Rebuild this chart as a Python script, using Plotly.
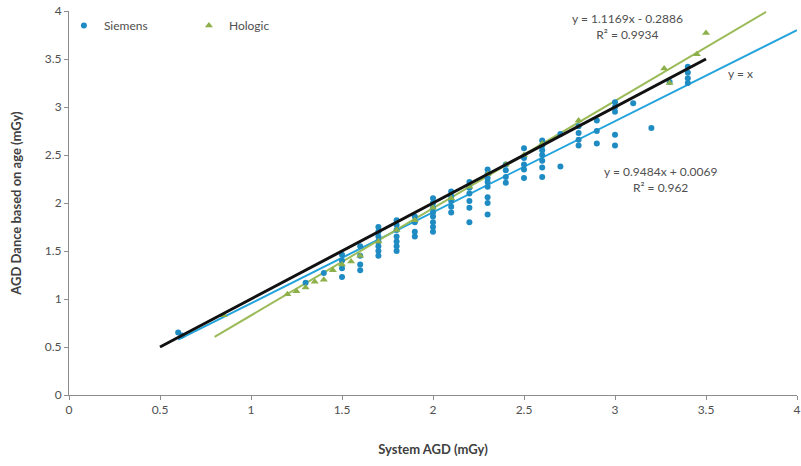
import plotly.graph_objects as go

# Siemens measurements (System AGD, AGD Dance)
siemens_x = [0.6, 0.62,
             1.3, 1.4,
             1.5, 1.5, 1.5, 1.5,
             1.6, 1.6, 1.6, 1.6,
             1.7, 1.7, 1.7, 1.7, 1.7, 1.7, 1.7,
             1.8, 1.8, 1.8, 1.8, 1.8, 1.8, 1.8,
             1.9, 1.9, 1.9, 1.9,
             2.0, 2.0, 2.0, 2.0, 2.0, 2.0, 2.0, 2.0,
             2.1, 2.1, 2.1, 2.1, 2.1,
             2.2, 2.2, 2.2, 2.2, 2.2, 2.2,
             2.3, 2.3, 2.3, 2.3, 2.3, 2.3, 2.3, 2.3,
             2.4, 2.4, 2.4, 2.4,
             2.5, 2.5, 2.5, 2.5, 2.5,
             2.6, 2.6, 2.6, 2.6, 2.6, 2.6, 2.6,
             2.7, 2.7,
             2.8, 2.8, 2.8, 2.8,
             2.9, 2.9, 2.9,
             3.0, 3.0, 3.0, 3.0, 3.0,
             3.1, 3.2, 3.3,
             3.4, 3.4, 3.4, 3.4]
siemens_y = [0.65, 0.62,
             1.17, 1.27,
             1.23, 1.32, 1.4, 1.46,
             1.3, 1.36, 1.45, 1.55,
             1.45, 1.5, 1.55, 1.6, 1.65, 1.7, 1.75,
             1.5, 1.55, 1.6, 1.65, 1.72, 1.77, 1.82,
             1.65, 1.7, 1.8, 1.86,
             1.7, 1.75, 1.8, 1.86, 1.9, 1.95, 2.0, 2.05,
             1.9, 1.96, 2.02, 2.07, 2.12,
             1.8, 1.95, 2.02, 2.1, 2.16, 2.22,
             1.88, 2.0, 2.06, 2.17, 2.22, 2.26, 2.3, 2.35,
             2.21, 2.27, 2.34, 2.4,
             2.26, 2.35, 2.4, 2.47, 2.57,
             2.27, 2.37, 2.44, 2.5, 2.55, 2.6, 2.65,
             2.38, 2.72,
             2.6, 2.66, 2.73, 2.8,
             2.62, 2.75, 2.86,
             2.6, 2.71, 2.95, 3.0, 3.05,
             3.04, 2.78, 3.26,
             3.25, 3.3, 3.36, 3.42]

# Hologic measurements
hologic_x = [0.85, 1.2, 1.25, 1.3, 1.35, 1.4, 1.45, 1.5, 1.55, 1.6,
             1.7, 1.8, 1.9, 2.0, 2.1, 2.2, 2.3, 2.4, 2.5, 2.6, 2.8,
             3.27, 3.3, 3.45, 3.5]
hologic_y = [0.83, 1.05, 1.08, 1.12, 1.18, 1.2, 1.3, 1.36, 1.39, 1.45,
             1.6, 1.72, 1.82, 1.95, 2.05, 2.17, 2.3, 2.4, 2.5, 2.62, 2.86,
             3.4, 3.25, 3.55, 3.77]

# Lines (endpoints)
identity_x = [0.5, 3.5]
identity_y = [0.5, 3.5]
hologic_fit_x = [0.8, 3.83]
hologic_fit_y = [0.605, 3.99]
siemens_fit_x = [0.6, 4.0]
siemens_fit_y = [0.576, 3.80]

x_ticks = [0, 0.5, 1, 1.5, 2, 2.5, 3, 3.5, 4]
y_ticks = [0, 0.5, 1, 1.5, 2, 2.5, 3, 3.5, 4]

BLUE = "#1E8BC3"
BLUE_LINE = "#22A3DC"
GREEN = "#8DB04A"
GREEN_LINE = "#9BBB59"
FONT = "Lato, 'Open Sans', sans-serif"

fig = go.Figure()
fig.add_trace(go.Scatter(x=siemens_fit_x, y=siemens_fit_y, mode="lines",
                         line=dict(color=BLUE_LINE, width=2), showlegend=False))
fig.add_trace(go.Scatter(x=hologic_fit_x, y=hologic_fit_y, mode="lines",
                         line=dict(color=GREEN_LINE, width=2), showlegend=False))
fig.add_trace(go.Scatter(x=siemens_x, y=siemens_y, mode="markers", name="Siemens",
                         marker=dict(color=BLUE, size=6, symbol="circle")))
fig.add_trace(go.Scatter(x=hologic_x, y=hologic_y, mode="markers", name="Hologic",
                         marker=dict(color=GREEN, size=7, symbol="triangle-up")))
fig.add_trace(go.Scatter(x=identity_x, y=identity_y, mode="lines",
                         line=dict(color="#111111", width=3), showlegend=False))

ann_font = dict(family=FONT, size=12, color="#505050")
fig.add_annotation(x=3.07, xref="x", y=1.005, yref="paper",
                   text="y = 1.1169x - 0.2886<br>R² = 0.9934",
                   showarrow=False, font=ann_font, align="center", yanchor="top")
fig.add_annotation(x=3.69, y=3.35, text="y = x", showarrow=False, font=ann_font)
fig.add_annotation(x=3.25, y=2.43, text="y = 0.9484x + 0.0069<br>R² = 0.962",
                   showarrow=False, font=ann_font, align="center", yanchor="top")

axis_common = dict(showgrid=False, zeroline=False, showline=True, linecolor="#8C8C8C",
                   linewidth=1, ticks="outside", ticklen=4, tickcolor="#8C8C8C",
                   automargin=False,
                   tickfont=dict(family=FONT, size=12, color="#505050"))

fig.update_layout(
    width=801, height=466,
    paper_bgcolor="white", plot_bgcolor="white",
    margin=dict(l=69, r=4, t=11, b=71),
    xaxis=dict(range=[0, 4], tickvals=x_ticks, ticktext=[str(v) for v in x_ticks],
               title=dict(text="<b>System AGD (mGy)</b>", standoff=28,
                          font=dict(family=FONT, size=13, color="#404040")),
               **axis_common),
    yaxis=dict(range=[0, 4], tickvals=y_ticks, ticktext=[str(v) for v in y_ticks],
               title=dict(text="<b>AGD Dance based on age (mGy)</b>", standoff=20,
                          font=dict(family=FONT, size=13, color="#404040")),
               **axis_common),
    legend=dict(orientation="h", x=-0.007, y=1.0, xanchor="left", yanchor="top",
                font=dict(family=FONT, size=12, color="#505050"),
                bgcolor="rgba(0,0,0,0)", itemwidth=30, tracegroupgap=0,
                entrywidth=80, entrywidthmode="pixels"),
)

fig.write_html("out.html", config={"displayModeBar": False},
               post_script="document.body.style.margin='0';")
